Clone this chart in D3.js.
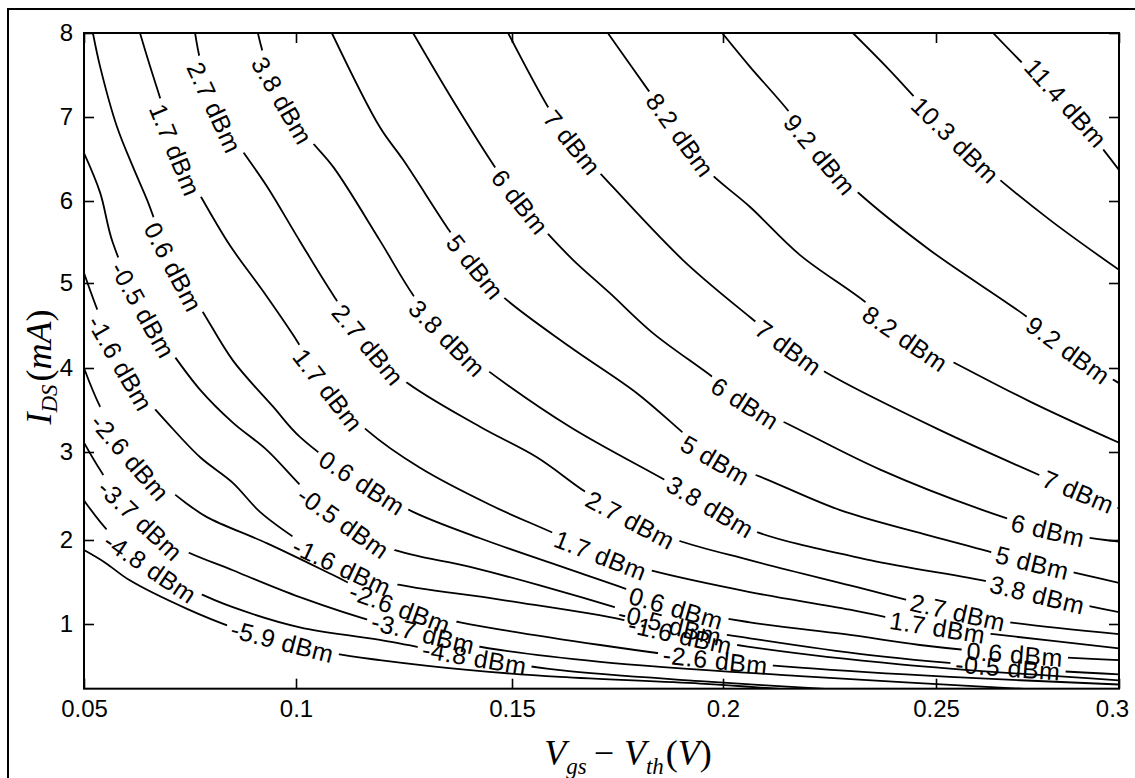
<!DOCTYPE html>
<html>
<head>
<meta charset="utf-8">
<script src="https://cdn.jsdelivr.net/npm/d3@7"></script>
<style>
  html, body { margin: 0; padding: 0; background: #fff; }
  svg { display: block; }
  .tick text { font-family: "Liberation Sans", Arial, sans-serif; font-size: 24px; fill: #000; }
  .tick line { stroke: #000; stroke-width: 1.6; }
  .clabel { font-family: "Liberation Sans", Arial, sans-serif; font-size: 25px; fill: #000; letter-spacing: 0.5px; }
</style>
</head>
<body>
<script>
// contour levels (dBm) and their printed labels
var levels = [-5.9, -4.8, -3.7, -2.6, -1.6, -0.5, 0.6, 1.7, 2.7, 3.8, 5, 6, 7, 8.2, 9.2, 10.3, 11.4];
var levelText = ["-5.9", "-4.8", "-3.7", "-2.6", "-1.6", "-0.5", "0.6", "1.7", "2.7", "3.8", "5", "6", "7", "8.2", "9.2", "10.3", "11.4"];

var xTicks = [0.05, 0.1, 0.15, 0.2, 0.25, 0.3];
var xTickLabels = ["0.05", "0.1", "0.15", "0.2", "0.25", "0.3"];
var yTicks = [1, 2, 3, 4, 5, 6, 7, 8];
var yTickLabels = ["1", "2", "3", "4", "5", "6", "7", "8"];
var yMin = 0.23;

// traced contour lines, [Vgs-Vth (V), Ids (mA)]
var cM5_9 = [[0.05,1.88],[0.0550,1.73],[0.0608,1.52],[0.0743,1.18],[0.0851,0.96],[0.0969,0.79],[0.1087,0.65],[0.1194,0.57],[0.1403,0.45],[0.1614,0.37],[0.1946,0.29],[0.2181,0.21]];
var cM4_8 = [[0.05,2.45],[0.0561,2.08],[0.0656,1.67],[0.0757,1.40],[0.0851,1.20],[0.1009,0.96],[0.1194,0.81],[0.1414,0.60],[0.1614,0.45],[0.1946,0.32],[0.2298,0.21]];
var cM3_7 = [[0.05,3.11],[0.0554,2.68],[0.0632,2.23],[0.0719,1.92],[0.0851,1.64],[0.1009,1.32],[0.1194,1.01],[0.1294,0.89],[0.1403,0.75],[0.1709,0.55],[0.2181,0.38],[0.2811,0.21]];
var cM2_6 = [[0.05,4.00],[0.0538,3.54],[0.0608,2.94],[0.0686,2.63],[0.0738,2.43],[0.0790,2.26],[0.0932,1.96],[0.1087,1.58],[0.1241,1.19],[0.1380,1.02],[0.1709,0.75],[0.1981,0.57],[0.2181,0.48],[0.2538,0.37],[0.3,0.28]];
var cM1_6 = [[0.05,5.12],[0.0538,4.60],[0.0585,4.06],[0.0649,3.62],[0.0696,3.35],[0.0774,2.94],[0.0851,2.65],[0.0915,2.32],[0.1016,1.96],[0.1106,1.68],[0.1218,1.49],[0.1472,1.29],[0.1763,1.05],[0.1898,0.87],[0.2087,0.71],[0.2415,0.52],[0.3,0.33]];
var cM0_5 = [[0.05,6.57],[0.0538,6.10],[0.0568,5.49],[0.0639,4.68],[0.0703,4.21],[0.0774,3.74],[0.0851,3.35],[0.0932,3.02],[0.1021,2.57],[0.1109,2.20],[0.1218,1.90],[0.1403,1.68],[0.1566,1.46],[0.1763,1.17],[0.1874,0.99],[0.2063,0.83],[0.2345,0.63],[0.2697,0.48],[0.3,0.40]];
var c0_6 = [[0.0521,8],[0.0538,7.60],[0.0578,6.88],[0.0616,6.40],[0.0649,6.01],[0.0710,5.20],[0.0774,4.71],[0.0851,4.09],[0.0946,3.54],[0.1009,3.18],[0.1153,2.65],[0.1271,2.32],[0.1426,2.02],[0.1607,1.70],[0.1780,1.40],[0.1889,1.19],[0.2063,1.02],[0.2298,0.87],[0.2462,0.75],[0.2716,0.64],[0.3,0.57]];
var c1_7 = [[0.0632,8],[0.0656,7.60],[0.0686,7.12],[0.0715,6.61],[0.0767,6.13],[0.0844,5.46],[0.0920,4.92],[0.0993,4.39],[0.1074,3.74],[0.1164,3.26],[0.1287,2.82],[0.1449,2.40],[0.1607,2.06],[0.1709,1.82],[0.1827,1.64],[0.2063,1.38],[0.2298,1.17],[0.2503,0.96],[0.2675,0.87],[0.3,0.71]];
var c2_7 = [[0.0762,8],[0.0774,7.68],[0.0807,7.12],[0.0861,6.69],[0.0932,6.17],[0.1009,5.51],[0.1086,4.86],[0.1167,4.27],[0.1248,3.86],[0.1426,3.30],[0.1559,2.94],[0.1673,2.55],[0.1780,2.23],[0.1891,2.00],[0.2063,1.76],[0.2298,1.46],[0.2560,1.14],[0.2702,1.02],[0.3,0.88]];
var c3_8 = [[0.0910,8],[0.0932,7.60],[0.0967,7.20],[0.1033,6.73],[0.1087,6.40],[0.1194,5.52],[0.1271,4.86],[0.1350,4.35],[0.1433,4.01],[0.1637,3.30],[0.1874,2.65],[0.1969,2.38],[0.2063,2.12],[0.2345,1.76],[0.2648,1.50],[0.2776,1.35],[0.3,1.14]];
var c5 = [[0.1083,8],[0.1194,6.88],[0.1248,6.49],[0.1356,5.63],[0.1414,5.20],[0.1479,4.84],[0.1637,4.25],[0.1796,3.70],[0.1905,3.23],[0.1981,2.91],[0.2087,2.72],[0.2275,2.34],[0.2462,2.08],[0.2648,1.86],[0.2762,1.73],[0.3,1.49]];
var c6 = [[0.1271,8],[0.1363,7.20],[0.1465,6.37],[0.1519,5.99],[0.1583,5.61],[0.1645,5.28],[0.1732,4.88],[0.1834,4.41],[0.1976,3.89],[0.2052,3.58],[0.2150,3.34],[0.2369,2.80],[0.2628,2.34],[0.2806,2.11],[0.3,1.98]];
var c7 = [[0.1491,8],[0.1590,7.08],[0.1642,6.70],[0.1709,6.33],[0.1905,5.28],[0.2063,4.60],[0.2153,4.24],[0.2244,3.94],[0.2511,3.26],[0.2792,2.72],[0.2888,2.55],[0.3,2.36]];
var c8_2 = [[0.1727,8],[0.1827,7.29],[0.1898,6.79],[0.1962,6.37],[0.2063,5.93],[0.2181,5.34],[0.2338,4.76],[0.2427,4.35],[0.2519,4.13],[0.2757,3.60],[0.3,3.11]];
var c9_2 = [[0.1998,8],[0.2063,7.60],[0.2157,7.05],[0.2228,6.55],[0.2315,6.11],[0.2486,5.40],[0.2749,4.60],[0.2861,4.21],[0.3,3.82]];
var c10_3 = [[0.2305,8],[0.2387,7.58],[0.2462,7.17],[0.2552,6.73],[0.2648,6.35],[0.2811,5.77],[0.3,5.16]];
var c11_4 = [[0.2656,8],[0.2765,7.52],[0.2839,7.24],[0.2934,6.74],[0.3,6.37]];

// where along Vgs-Vth each inline label sits, same order as levels
var labelAt = [
  [0.0969],
  [0.0656, 0.1414],
  [0.0632, 0.1294],
  [0.0608, 0.1241, 0.1981],
  [0.0585, 0.1106, 0.1898],
  [0.0639, 0.1109, 0.1874, 0.2697],
  [0.0710, 0.1153, 0.1889, 0.2716],
  [0.0715, 0.1074, 0.1709, 0.2503],
  [0.0807, 0.1167, 0.1780, 0.2560],
  [0.0967, 0.1350, 0.1969, 0.2776],
  [0.1414, 0.1981, 0.2762],
  [0.1519, 0.2052, 0.2806],
  [0.1642, 0.2153, 0.2888],
  [0.1898, 0.2427],
  [0.2228, 0.2861],
  [0.2552],
  [0.2855]
];

var contours = [cM5_9, cM4_8, cM3_7, cM2_6, cM1_6, cM0_5, c0_6, c1_7, c2_7, c3_8, c5, c6, c7, c8_2, c9_2, c10_3, c11_4];

var W = 1135, H = 778;
// the scanned figure is not quite uniform, so the scales follow the printed tick marks
var x = d3.scaleLinear().domain(xTicks).range([84, 296, 512, 723, 936, 1119]);
var y = d3.scaleLinear().domain(yTicks).range([624, 540, 452, 368, 283, 201, 117, 33]);

var svg = d3.select("body").append("svg").attr("width", W).attr("height", H);
var defs = svg.append("defs");

// outer figure frame
svg.append("rect").attr("x", 8).attr("y", 9).attr("width", W + 20).attr("height", H + 20)
  .attr("fill", "none").attr("stroke", "#000").attr("stroke-width", 2);

defs.append("clipPath").attr("id", "plotClip").append("rect")
  .attr("x", x(0.05)).attr("y", y(8))
  .attr("width", x(0.3) - x(0.05)).attr("height", y(yMin) - y(8));

var plot = svg.append("g").attr("clip-path", "url(#plotClip)");
var line = d3.line().x(function(d) { return x(d[0]); }).y(function(d) { return y(d[1]); })
  .curve(d3.curveCatmullRom.alpha(0.5));

contours.forEach(function(pts, i) {
  var mask = defs.append("mask").attr("id", "gap" + i).attr("maskUnits", "userSpaceOnUse")
    .attr("x", 0).attr("y", 0).attr("width", W).attr("height", H);
  mask.append("rect").attr("width", W).attr("height", H).attr("fill", "#fff");
  var path = plot.append("path").datum(pts).attr("d", line)
    .attr("fill", "none").attr("stroke", "#000").attr("stroke-width", 1.8)
    .attr("mask", "url(#gap" + i + ")");
  var node = path.node(), len = node.getTotalLength();
  labelAt[i].forEach(function(lx) {
    var tx = x(lx), best = 0, bd = 1e9;
    for (var s = 0; s <= len; s += 1) {
      var p = node.getPointAtLength(s), d = Math.abs(p.x - tx);
      if (d < bd) { bd = d; best = s; }
    }
    var p0 = node.getPointAtLength(Math.max(0, best - 8));
    var p1 = node.getPointAtLength(Math.min(len, best + 8));
    var pc = node.getPointAtLength(best);
    var ang = Math.atan2(p1.y - p0.y, p1.x - p0.x) * 180 / Math.PI;
    var tr = "translate(" + pc.x + "," + pc.y + ") rotate(" + ang + ")";
    var t = plot.append("text").attr("class", "clabel").attr("transform", tr)
      .attr("text-anchor", "middle").attr("dy", "0.36em").text(levelText[i] + " dBm");
    var w = t.node().getComputedTextLength();
    mask.append("rect").attr("transform", tr).attr("x", -w / 2 - 5).attr("y", -12)
      .attr("width", w + 10).attr("height", 24).attr("fill", "#000");
  });
});

// axes with inward ticks on all four sides
var gx = svg.append("g").attr("transform", "translate(0," + y(yMin) + ")")
  .call(d3.axisBottom(x).tickValues(xTicks).tickFormat(function(d, i) { return xTickLabels[i]; })
    .tickSizeInner(-10).tickSizeOuter(0).tickPadding(11));
var gt = svg.append("g").attr("transform", "translate(0," + y(8) + ")")
  .call(d3.axisTop(x).tickValues(xTicks).tickFormat("").tickSizeInner(-10).tickSizeOuter(0));
var gy = svg.append("g").attr("transform", "translate(" + x(0.05) + ",0)")
  .call(d3.axisLeft(y).tickValues(yTicks).tickFormat(function(d, i) { return yTickLabels[i]; })
    .tickSizeInner(-10).tickSizeOuter(0).tickPadding(11));
var gr = svg.append("g").attr("transform", "translate(" + x(0.3) + ",0)")
  .call(d3.axisRight(y).tickValues(yTicks).tickFormat("").tickSizeInner(-10).tickSizeOuter(0));
[gx, gt, gy, gr].forEach(function(g) { g.select(".domain").remove(); });
// last x label sits a little inside the right edge, as printed
gx.selectAll(".tick text").filter(function(d) { return d === 0.3; }).attr("dx", -7);

svg.append("rect").attr("x", x(0.05)).attr("y", y(8))
  .attr("width", x(0.3) - x(0.05)).attr("height", y(yMin) - y(8))
  .attr("fill", "none").attr("stroke", "#000").attr("stroke-width", 2);

// axis titles, LaTeX-like
var serif = "'Liberation Serif','Times New Roman',serif";
var xl = svg.append("text").attr("x", 628).attr("y", 765).attr("text-anchor", "middle")
  .style("font-family", serif).style("font-size", "36px");
function piece(t, s, opt) {
  var ts = t.append("tspan").text(s).style("font-style", opt.up ? "normal" : "italic");
  if (opt.size) ts.style("font-size", opt.size + "px");
  if (opt.dy) ts.attr("dy", opt.dy);
  if (opt.dx) ts.attr("dx", opt.dx);
  return ts;
}
piece(xl, "V", {});
piece(xl, "gs", { size: 23, dy: 9 });
piece(xl, "\u2212", { up: true, dy: -9, dx: 7 });
piece(xl, "V", { dx: 10 });
piece(xl, "th", { size: 23, dy: 9 });
piece(xl, "(", { up: true, dy: -9, dx: 2 });
piece(xl, "V", {});
piece(xl, ")", { up: true });

var yl = svg.append("g").attr("transform", "translate(51,367) rotate(-90)")
  .append("text").attr("text-anchor", "middle")
  .style("font-family", serif).style("font-size", "36px");
piece(yl, "I", {});
piece(yl, "DS", { size: 23, dy: 6 });
piece(yl, "(", { up: true, dy: -6, dx: 3 });
piece(yl, "mA", {});
piece(yl, ")", { up: true });
</script>
</body>
</html>
